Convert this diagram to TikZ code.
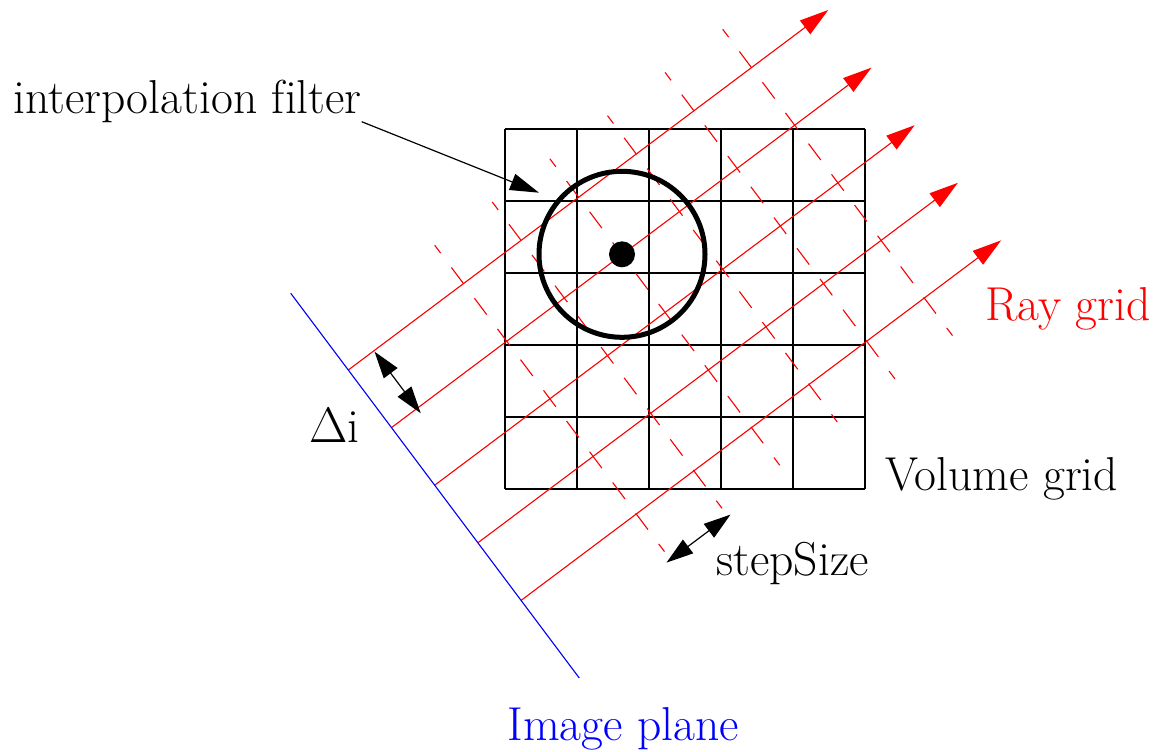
\documentclass[tikz,border=0pt]{standalone}
\usetikzlibrary{arrows.meta}
\begin{document}
\begin{tikzpicture}[x=0.5pt,y=-0.5pt,
  conn/.style={black, line width=0.6pt},
  tip/.style={-{Triangle[length=14.5pt,width=8.5pt]}},
  dtip/.style={{Triangle[length=13.5pt,width=8.5pt]}-{Triangle[length=13.5pt,width=8.5pt]}},
  ray/.style={red, line width=0.55pt, -{Triangle[length=14.5pt,width=8.5pt]}},
  raystep/.style={red, line width=0.55pt, dash pattern=on 10.25pt off 8.95pt, dash phase=5.3pt},
  gridline/.style={black, line width=0.65pt},
  lbl/.style={anchor=base west, inner sep=0pt, font=\rmfamily\fontsize{23.8}{28}\selectfont}]
\useasboundingbox (0,0) rectangle (1156,751);
% volume grid
\foreach \i in {0,...,5} {
  \draw[gridline] (505+72*\i,129) -- (505+72*\i,489);
  \draw[gridline] (505,129+72*\i) -- (865,129+72*\i);
}
% ray grid and image plane
\coordinate (O) at (348.3,370);
\begin{scope}[shift={(O)}, x={(0.4pt,0.3pt)}, y={(0.3pt,-0.4pt)}]
  \foreach \a in {144,216,...,504}
    \draw[raystep] (\a,-48) -- (\a,335);
  \foreach \k in {0,...,4} {
    \coordinate (s\k) at (0,72*\k);
    \coordinate (e\k) at (600,72*\k);
    \draw[ray] (s\k) -- (e\k);
  }
  \coordinate (ip1) at (0,-96);
  \coordinate (ip2) at (0,385);
  \draw[blue, line width=0.55pt] (ip1) -- (ip2);
  \coordinate (di1) at (32,1);
  \coordinate (di2) at (32,78);
  \coordinate (ss1) at (139,345);
  \coordinate (ss2) at (219,345);
\end{scope}
% interpolation filter
\node[circle, draw, line width=2.5pt, minimum size=83pt, inner sep=0pt] (filter) at (622,254.3) {};
\node[circle, fill, minimum size=13pt, inner sep=0pt] (sample) at (622,254.3) {};
% labels
\node[lbl] (tfilter) at (13,113.3) {interpolation f\kern0pt ilter};
\node[lbl] (tdi) at (309,442) {$\Delta$i};
\node[lbl, red] (tray) at (985,320) {Ray grid};
\node[lbl] (tvol) at (885,490) {Volume grid};
\node[lbl] (tstep) at (716,575) {stepSize};
\node[lbl, blue] (timg) at (507,740) {Image plane};
% connectors
\coordinate (fa) at (361.7,121.7);
\coordinate (fb) at (539,192.7);
\draw[conn, tip] (fa) -- (fb);
\draw[conn, dtip] (di1) -- (di2);
\draw[conn, dtip] (ss1) -- (ss2);
\end{tikzpicture}
\end{document}
